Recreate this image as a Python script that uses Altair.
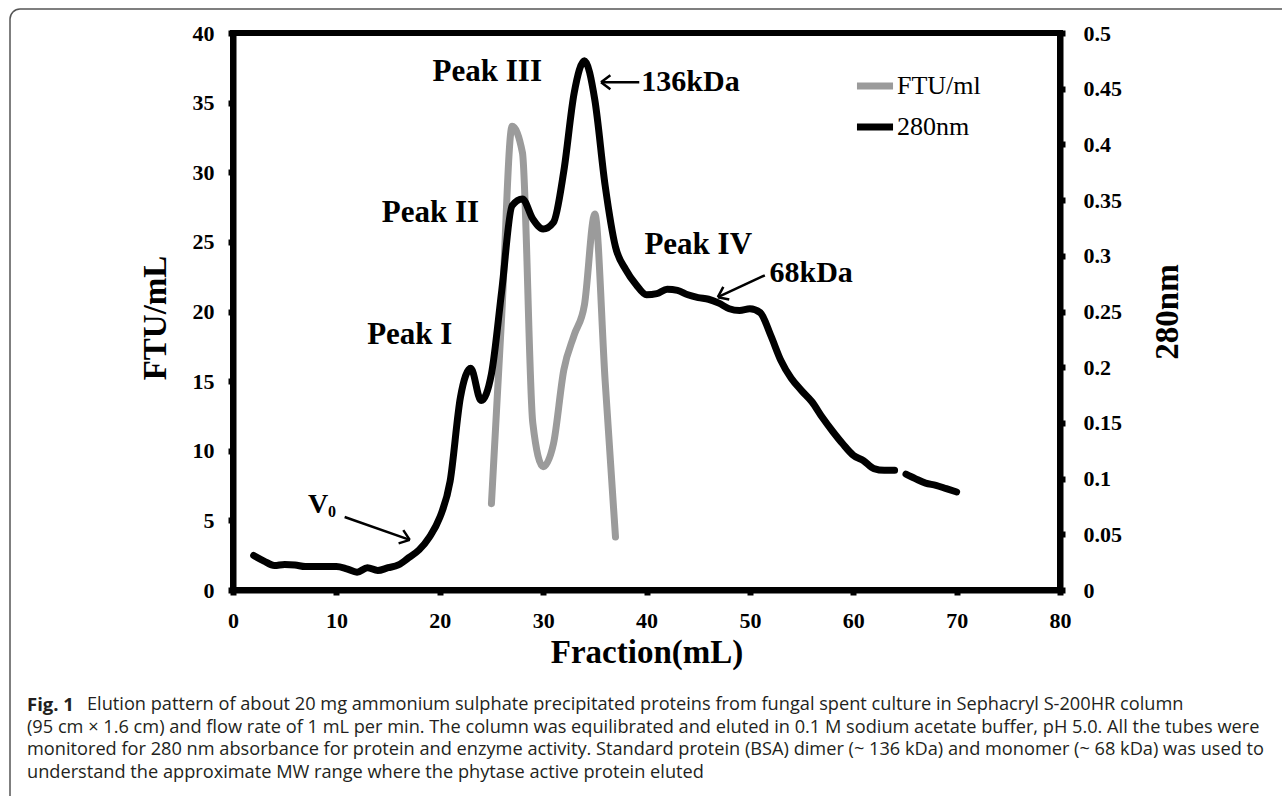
import altair as alt
import pandas as pd

# ---------------- data ----------------
# FTU/ml (phytase activity), left axis
ftu_x = [25, 26, 27, 28, 29, 30, 31, 32, 33, 34, 35, 36, 37]
ftu_y = [6.2, 19.8, 33.3, 31.4, 12.0, 8.85, 10.5, 15.8, 18.3, 20.5, 27.0, 15.0, 3.8]

# 280 nm absorbance, right axis (two segments, small gap near 64.5 mL)
abs_x = [2, 3, 4, 5, 6, 7, 8, 9, 10, 11, 12, 13, 14, 15, 16, 17, 18, 19, 20,
         21, 22, 23, 24, 25, 26, 27, 28, 29, 30, 31, 32, 33, 34, 35, 36, 37,
         38, 39, 40, 41, 42, 43, 44, 45, 46, 47, 48, 49, 50, 51, 52, 53, 54,
         55, 56, 57, 58, 59, 60, 61, 62, 63, 64,
         65.1, 66, 67, 68, 69, 70]
abs_y = [0.031, 0.026, 0.022, 0.023, 0.0225, 0.021, 0.021, 0.021, 0.021, 0.019,
         0.016, 0.020, 0.0175, 0.020, 0.0225, 0.029, 0.036, 0.0475, 0.065,
         0.0975, 0.173, 0.199, 0.170, 0.194, 0.269, 0.345, 0.351, 0.333, 0.324,
         0.330, 0.376, 0.446, 0.475, 0.440, 0.363, 0.308,
         0.2875, 0.274, 0.265, 0.266, 0.270, 0.269, 0.265, 0.2625, 0.261, 0.2575,
         0.2525, 0.251, 0.2525, 0.249, 0.229, 0.206, 0.190,
         0.179, 0.169, 0.155, 0.1425, 0.131, 0.121, 0.116, 0.109, 0.1075, 0.1075,
         0.104, 0.100, 0.096, 0.094, 0.091, 0.088]
abs_seg = ["a"] * 63 + ["b"] * 6

series_names = ["FTU/ml", "280nm"]
series_colors = ["#9b9b9b", "#000000"]

x_ticks = [0, 10, 20, 30, 40, 50, 60, 70, 80]
left_ticks = [0, 5, 10, 15, 20, 25, 30, 35, 40]
right_ticks = [0, 0.05, 0.1, 0.15, 0.2, 0.25, 0.3, 0.35, 0.4, 0.45, 0.5]

# annotations (in data coordinates of the left axis)
peak_labels = ["Peak I", "Peak II", "Peak III", "Peak IV"]
peak_x = [17.1, 19.1, 24.6, 45.0]
peak_y = [18.3, 27.06, 37.19, 24.77]

kda_labels = ["136kDa", "68kDa"]
kda_x = [39.5, 51.9]
kda_y = [36.47, 22.76]

# arrows: start (x, y) -> head (x2, y2), angle of head in screen degrees
arrow_x = [10.8, 51.45, 39.3]
arrow_y = [5.24, 22.6, 36.47]
arrow_x2 = [17.1, 46.9, 35.6]
arrow_y2 = [3.6, 21.03, 36.47]
arrow_angle = [19.5, 154.9, 180]

caption_lines = [
    "Elution pattern of about 20 mg ammonium sulphate precipitated proteins from fungal spent culture in Sephacryl S-200HR column",
    "(95 cm \u00d7 1.6 cm) and flow rate of 1 mL per min. The column was equilibrated and eluted in 0.1 M sodium acetate buffer, pH 5.0. All the tubes were",
    "monitored for 280 nm absorbance for protein and enzyme activity. Standard protein (BSA) dimer (~ 136 kDa) and monomer (~ 68 kDa) was used to",
    "understand the approximate MW range where the phytase active protein eluted",
]

# ---------------- layout ----------------
W, H = 827, 557
PAD = {"left": 233, "top": 33, "right": 1282 - 233 - W, "bottom": 796 - 33 - H}
SERIF = "Liberation Serif"

ftu_df = pd.DataFrame({"x": ftu_x, "y": ftu_y, "series": "FTU/ml"})
abs_df = pd.DataFrame({"x": abs_x, "y": abs_y, "seg": abs_seg, "series": "280nm"})
peak_df = pd.DataFrame({"label": peak_labels, "x": peak_x, "y": peak_y})
kda_df = pd.DataFrame({"label": kda_labels, "x": kda_x, "y": kda_y})
arrow_df = pd.DataFrame({"x": arrow_x, "y": arrow_y, "x2": arrow_x2,
                         "y2": arrow_y2, "angle": arrow_angle})
v0_df = pd.DataFrame({"x": [7.25], "y": [6.1], "x0": [9.2], "y0": [5.6]})

x_axis = alt.Axis(values=x_ticks, title="Fraction(mL)", grid=False,
                  titleX=W / 2, titleY=62, titleBaseline="middle", titleAlign="center",
                  labelPadding=15)
x_scale = alt.Scale(domain=[0, 80], nice=False)
left_axis = alt.Axis(values=left_ticks, title="FTU/mL", grid=False, orient="left",
                     titleAngle=270, titleX=-78, titleY=H / 2 + 6,
                     titleBaseline="middle", titleAlign="center", labelPadding=14)
left_scale = alt.Scale(domain=[0, 40], nice=False)
right_axis = alt.Axis(values=right_ticks, title="280nm", grid=False, orient="right",
                      format=".2~f", titleAngle=270, titleX=107, titleY=H / 2,
                      titleBaseline="middle", titleAlign="center", labelPadding=18)
right_scale = alt.Scale(domain=[0, 0.5], nice=False)

color = alt.Color("series:N", scale=alt.Scale(domain=series_names, range=series_colors),
                  legend=alt.Legend(title=None, orient="none", legendX=620, legendY=31,
                                    symbolType="stroke", symbolStrokeWidth=7,
                                    symbolSize=1300, labelFont=SERIF, labelFontSize=26,
                                    labelFontWeight="normal", labelColor="black",
                                    labelOffset=0, rowPadding=5, symbolOffset=0))


def X(f="x"):
    return alt.X(f"{f}:Q", scale=x_scale, axis=x_axis)


def YL(f="y"):
    return alt.Y(f"{f}:Q", scale=left_scale, axis=left_axis)


ftu_line = alt.Chart(ftu_df).mark_line(strokeWidth=7, interpolate="monotone",
                                       strokeCap="round", strokeJoin="round").encode(
    x=X(), y=YL(), color=color)

peak_text = alt.Chart(peak_df).mark_text(font=SERIF, fontWeight="bold", fontSize=31,
                                         align="center", baseline="middle",
                                         color="black").encode(x=X(), y=YL(), text="label:N")
kda_text = alt.Chart(kda_df).mark_text(font=SERIF, fontWeight="bold", fontSize=30,
                                       align="left", baseline="middle",
                                       color="black").encode(x=X(), y=YL(), text="label:N")
arrow_shaft = alt.Chart(arrow_df).mark_rule(strokeWidth=2.5, color="black").encode(
    x=X(), y=YL(), x2="x2:Q", y2="y2:Q")
arrow_head = alt.Chart(arrow_df).mark_point(
    shape="M0,0L-1,-0.75M0,0L-1,0.75", size=350, filled=False, strokeWidth=2.5,
    color="black", opacity=1).encode(x=X("x2"), y=YL("y2"), angle=alt.Angle("angle:Q", scale=None))
v_text = alt.Chart(v0_df).mark_text(font=SERIF, fontWeight="bold", fontSize=28,
                                    align="left", baseline="middle", color="black",
                                    text="V").encode(x=X(), y=YL())
v_sub = alt.Chart(v0_df).mark_text(font=SERIF, fontWeight="bold", fontSize=16,
                                   align="left", baseline="middle", color="black",
                                   text="0").encode(x=X("x0"), y=YL("y0"))

# figure border (top and left edges with a rounded top-left corner) and caption
frame = alt.Chart(pd.DataFrame({"k": [0]})).mark_rect(
    fill=None, stroke="#555555", strokeWidth=1.5, cornerRadiusTopLeft=10).encode(
    x=alt.value(10 - 233), x2=alt.value(1450 - 233),
    y=alt.value(9 - 33), y2=alt.value(900 - 33))

cap_layers = []
cap_y = [705, 728, 750, 773]
cap_x = [87, 27, 27, 27]
for i, line in enumerate(caption_lines):
    cap_layers.append(
        alt.Chart(pd.DataFrame({"t": [line]})).mark_text(
            font="Open Sans", fontSize=18.2, align="left", baseline="middle",
            color="#231f20").encode(text="t:N", x=alt.value(cap_x[i] - 233),
                                    y=alt.value(cap_y[i] - 33)))
fig_label = alt.Chart(pd.DataFrame({"t": ["Fig. 1"]})).mark_text(
    font="Open Sans", fontWeight="bold", fontSize=18.5, align="left", baseline="middle",
    color="#231f20").encode(text="t:N", x=alt.value(27 - 233), y=alt.value(705 - 33))

left_group = alt.layer(ftu_line, peak_text, kda_text, arrow_shaft, arrow_head,
                       v_text, v_sub, frame, fig_label, *cap_layers)

abs_line = alt.Chart(abs_df).mark_line(strokeWidth=7, interpolate="monotone",
                                       strokeCap="round", strokeJoin="round").encode(
    x=X(), y=alt.Y("y:Q", scale=right_scale, axis=right_axis),
    color=color, detail="seg:N")

chart = alt.layer(left_group, abs_line).resolve_scale(y="independent").properties(
    width=W, height=H, padding=PAD, autosize=alt.AutoSizeParams(type="none"),
    background="white"
).configure_view(stroke="black", strokeWidth=6).configure_axis(
    domainColor="black", domainWidth=6, tickColor="black", tickWidth=6, tickSize=5,
    labelFont=SERIF, labelFontWeight="bold", labelFontSize=22, labelColor="black",
    titleFont=SERIF, titleFontWeight="bold", titleFontSize=33, titleColor="black",
    labelFlush=False, labelOverlap=False
)

chart.save("out.html", embed_options={"renderer": "svg", "actions": False})
